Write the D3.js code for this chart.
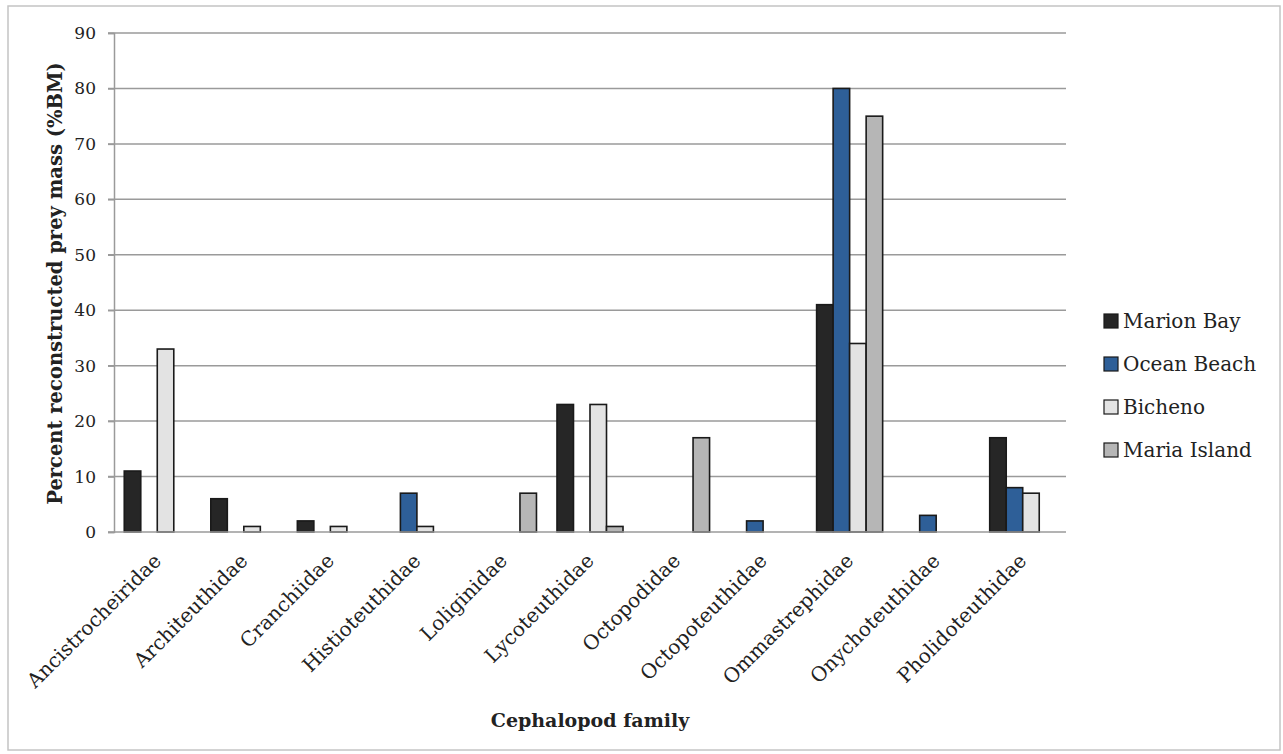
<!DOCTYPE html>
<html>
<head>
<meta charset="utf-8">
<script src="https://cdn.jsdelivr.net/npm/d3@7"></script>
<style>
  html, body { margin: 0; padding: 0; background: #fff; }
  svg { display: block; }
  text { font-family: "DejaVu Serif", serif; fill: #222; }
</style>
</head>
<body>
<svg id="chart" width="1283" height="754"></svg>
<script>
const categories = ["Ancistrocheiridae","Architeuthidae","Cranchiidae","Histioteuthidae","Loliginidae","Lycoteuthidae","Octopodidae","Octopoteuthidae","Ommastrephidae","Onychoteuthidae","Pholidoteuthidae"];
const seriesNames = ["Marion Bay","Ocean Beach","Bicheno","Maria Island"];
const marionBay   = [11, 6, 2, 0, 0, 23, 0, 0, 41, 0, 17];
const oceanBeach  = [0, 0, 0, 7, 0, 0, 0, 2, 80, 3, 8];
const bicheno     = [33, 1, 1, 1, 0, 23, 0, 0, 34, 0, 7];
const mariaIsland = [0, 0, 0, 0, 7, 1, 17, 0, 75, 0, 0];
const yTicks = [0, 10, 20, 30, 40, 50, 60, 70, 80, 90];
const yLabel = "Percent reconstructed prey mass (%BM)";
const xLabel = "Cephalopod family";

const seriesValues = [marionBay, oceanBeach, bicheno, mariaIsland];
const colors = ["#262626", "#2e5f98", "#e3e3e3", "#b6b6b6"];

const svg = d3.select("#chart");
const plot = {left: 114, right: 1066, top: 33, bottom: 532};

// outer border
svg.append("rect").attr("x", 8).attr("y", 6).attr("width", 1272).attr("height", 744)
  .attr("fill", "#fff").attr("stroke", "#c4c4c4").attr("stroke-width", 1.5);

const x = d3.scaleBand().domain(categories).range([plot.left, plot.right]).paddingInner(0.237).paddingOuter(0.1185);
const xs = d3.scaleBand().domain(seriesNames).range([0, x.bandwidth()]);
const y = d3.scaleLinear().domain([0, 90]).range([plot.bottom, plot.top]);

// gridlines
svg.append("g").selectAll("line").data(yTicks.filter(d => d > 0)).join("line")
  .attr("x1", plot.left - 6).attr("x2", plot.right)
  .attr("y1", d => y(d)).attr("y2", d => y(d))
  .attr("stroke", "#9a9a9a").attr("stroke-width", 1.5);

// y axis
const yAxis = svg.append("g").attr("transform", `translate(${plot.left},0)`)
  .call(d3.axisLeft(y).tickValues(yTicks).tickSize(6).tickPadding(12).tickFormat(d3.format("d")));
yAxis.select(".domain").attr("stroke", "#9a9a9a").attr("stroke-width", 1.5);
yAxis.selectAll(".tick line").attr("stroke", "#9a9a9a").attr("stroke-width", 1.5);
yAxis.selectAll(".tick text").attr("font-family", "DejaVu Serif").attr("font-size", 17).attr("fill", "#333");

// bars
const barData = [];
categories.forEach((c, i) => {
  seriesNames.forEach((s, j) => {
    const v = seriesValues[j][i];
    if (v > 0) barData.push({c, s, v, j});
  });
});
svg.append("g").selectAll("rect").data(barData).join("rect")
  .attr("x", d => x(d.c) + xs(d.s))
  .attr("y", d => y(d.v))
  .attr("width", xs.bandwidth())
  .attr("height", d => y(0) - y(d.v))
  .attr("fill", d => colors[d.j])
  .attr("stroke", "#1a1a1a").attr("stroke-width", 1.6);

// x axis
const xAxis = svg.append("g").attr("transform", `translate(0,${plot.bottom})`)
  .call(d3.axisBottom(x).tickSize(0).tickFormat(""));
xAxis.select(".domain").attr("stroke", "#9a9a9a").attr("stroke-width", 1.5)
  .attr("d", `M${plot.left - 6},0H${plot.right}`);

// x tick labels rotated
svg.append("g").selectAll("text").data(categories).join("text")
  .attr("transform", d => `translate(${x(d) + x.bandwidth() / 2 + 5},562) rotate(-45)`)
  .attr("text-anchor", "end")
  .attr("font-size", 20)
  .attr("fill", "#222")
  .text(d => d);

// axis titles
svg.append("text").attr("x", (plot.left + plot.right) / 2).attr("y", 727)
  .attr("text-anchor", "middle").attr("font-weight", "bold").attr("font-size", 19)
  .text(xLabel);
svg.append("text").attr("transform", `translate(62,${(plot.top + plot.bottom) / 2 + 1}) rotate(-90)`)
  .attr("text-anchor", "middle").attr("font-weight", "bold").attr("font-size", 19.5)
  .text(yLabel);

// legend
const legendY = d3.scalePoint().domain(seriesNames).range([321, 450]);
const lg = svg.append("g").selectAll("g").data(seriesNames).join("g")
  .attr("transform", d => `translate(1104,${legendY(d)})`);
lg.append("rect").attr("x", 0).attr("y", -7).attr("width", 14).attr("height", 14)
  .attr("fill", (d, i) => colors[i]).attr("stroke", "#1a1a1a").attr("stroke-width", 1.2);
lg.append("text").attr("x", 19).attr("dy", "0.36em").attr("font-size", 20).attr("fill", "#222")
  .text(d => d);
</script>
</body>
</html>
